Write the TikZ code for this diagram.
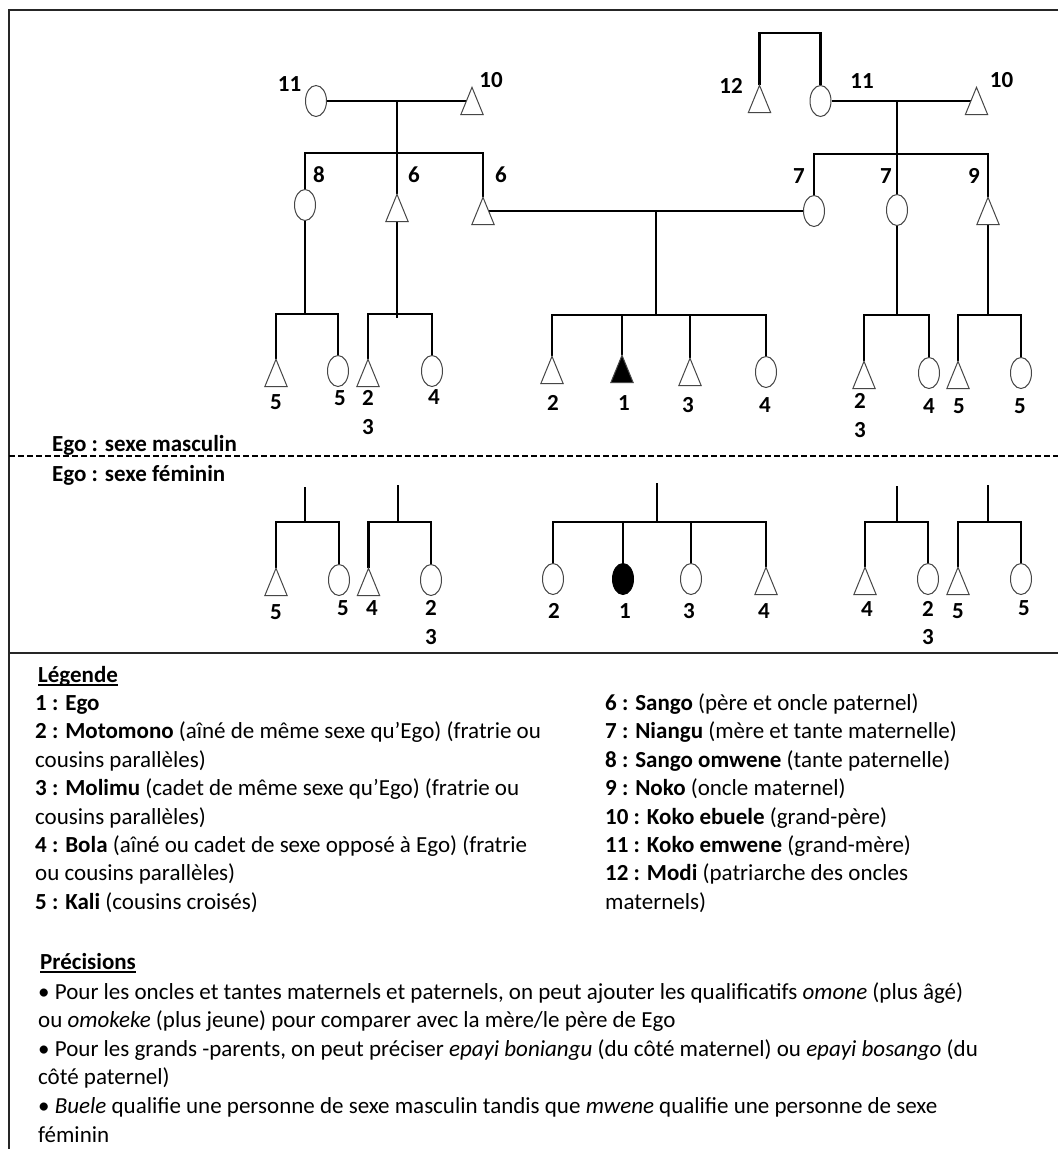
\documentclass[tikz,border=0pt]{standalone}
\usepackage{fontspec}
\setmainfont{Carlito}
\usetikzlibrary{shapes.geometric}
\definecolor{shapegray}{RGB}{70,70,70}
\newcommand\mytri[2][white]{\filldraw[triline,fill=#1] (#2.north) -- (#2.south east) -- (#2.south west) -- cycle;}
\tikzset{
  ell/.style={ellipse, draw=shapegray, line width=1pt, fill=white, minimum width=21pt, minimum height=31pt, inner sep=0pt},
  ellfill/.style={ell, fill=black, draw=black},
  tribox/.style={rectangle, draw=none, minimum width=22pt, minimum height=27pt, inner sep=0pt},
  triline/.style={draw=shapegray, line width=1pt, line join=miter},
  link/.style={line width=2.4pt, black},
  border/.style={line width=1.5pt, black!85},
  sep/.style={line width=1.3pt, black, dash pattern=on 6pt off 3pt},
  lbl/.style={font=\fontsize{23}{28}\selectfont\bfseries, inner sep=0pt},
  leg/.style={anchor=base west, inner sep=0pt, font=\fontsize{23}{28}\selectfont},
  ulin/.style={line width=1.3pt},
}
\begin{document}
\begin{tikzpicture}[x=1pt,y=-1pt]
\useasboundingbox (0,0) rectangle (1058,1149);
\fill[white] (0,0) rectangle (1058,1149);
% frame
\draw[border] (1058,10) -- (9,10) -- (9,1149);
\draw[border] (9,653) -- (1058,653);
\coordinate (dL) at (9,456);
\coordinate (dR) at (1058,456);
\draw[sep] (dL) -- (dR);

% ---------- generation 1 and 2 ----------
\node[ell] (c11L) at (316,101) {};
\node[tribox] (t10L) at (472,101) {};
\node[lbl] (n11L) at (289.5,84) {11};
\node[lbl] (n10L) at (491,80) {10};
\coordinate (mL) at (397,101);
\coordinate (bL) at (397,153);
\node[ell] (c8) at (305,205) {};
\node[tribox] (t6u) at (397,208) {};
\node[tribox] (t6f) at (483,211) {};
\node[lbl] (n8) at (319,175) {8};
\node[lbl] (n6a) at (414,175) {6};
\node[lbl] (n6b) at (501,175) {6};

\node[tribox] (t12) at (759.5,99) {};
\node[ell] (c11R) at (820.5,101) {};
\node[tribox] (t10R) at (976.5,101) {};
\coordinate (brk) at (790,33);
\coordinate (mR) at (897,101);
\coordinate (bR) at (897,154);
\node[ell] (c7a) at (814,211) {};
\node[ell] (c7b) at (897,210) {};
\node[tribox] (t9) at (988,211) {};
\node[lbl] (n12) at (731,86) {12};
\node[lbl] (n11R) at (862,81) {11};
\node[lbl] (n10R) at (1001.5,80) {10};
\node[lbl] (n7a) at (799,176) {7};
\node[lbl] (n7b) at (886,176) {7};
\node[lbl] (n9) at (974,176) {9};

\draw[link] (c11L.east) -- (t10L.center);
\draw[link] (mL) -- (bL);
\draw[link] (c8.north) |- (bL) -| (t6f.north);
\draw[link] (bL) -- (t6u.north);
\draw[link] (t12.north) |- (brk) -| (c11R.north);
\draw[link] (c11R.east) -- (t10R.center);
\draw[link] (mR) -- (bR);
\draw[link] (c7a.north) |- (bR) -| (t9.north);
\draw[link] (bR) -- (c7b.north);
\draw[link] (t6f.center) -- (c7a.west);
\coordinate (mE) at (656,211);
\coordinate (bE) at (656,315);
\draw[link] (mE) -- (bE);

% ---------- generation 3, Ego male ----------
\node[tribox] (a1) at (276,373) {};
\node[ell] (a2) at (338,371) {};
\coordinate (b8) at (305,314);
\draw[link] (c8.south) -- (b8);
\draw[link] (a1.north) |- (b8) -| (a2.north);
\node[tribox] (a3) at (368,373) {};
\node[ell] (a4) at (432,371) {};
\coordinate (b6) at (397,314);
\coordinate (b6e) at (397,318);
\draw[link] (t6u.south) -- (b6e);
\draw[link] (a3.north) |- (b6) -| (a4.north);
\node[tribox] (e2) at (552,370) {};
\node[tribox] (e1) at (622,369) {};
\node[tribox] (e3) at (690,372) {};
\node[ell] (e4) at (766,372) {};
\draw[link] (e2.north) |- (bE) -| (e4.north);
\draw[link] (e1.north) -- (e1.north |- bE);
\draw[link] (e3.north) -- (e3.north |- bE);
\coordinate (b7) at (897,315);
\draw[link] (c7b.south) -- (b7);
\node[tribox] (a5) at (864,375) {};
\node[ell] (a6) at (929,373) {};
\draw[link] (a5.north) |- (b7) -| (a6.north);
\coordinate (b9) at (988,315);
\draw[link] (t9.south) -- (b9);
\node[tribox] (a7) at (958,375) {};
\node[ell] (a8) at (1021,373) {};
\draw[link] (a7.north) |- (b9) -| (a8.north);

\node[lbl] (la1) at (276,402) {5};
\node[lbl] (la2) at (340,398) {5};
\node[lbl] (la3) at (368,398) {2};
\node[lbl] (la3b) at (368,427) {3};
\node[lbl] (la4) at (434,397) {4};
\node[lbl] (le2) at (553,403) {2};
\node[lbl] (le1) at (624,403) {1};
\node[lbl] (le3) at (688,405) {3};
\node[lbl] (le4) at (765,405) {4};
\node[lbl] (la5) at (860,401) {2};
\node[lbl] (la5b) at (860,430) {3};
\node[lbl] (la6) at (929,406) {4};
\node[lbl] (la7) at (959,406) {5};
\node[lbl] (la8) at (1020,406) {5};

\node[leg, font=\fontsize{23}{28}\selectfont\bfseries] (egoM) at (52,451) {Ego : sexe masculin};
\node[leg, font=\fontsize{23}{28}\selectfont\bfseries] (egoF) at (52,481) {Ego : sexe féminin};

% ---------- generation 3, Ego female ----------
\coordinate (s1) at (305,487); \coordinate (q1) at (305,522);
\node[tribox] (f1) at (276,582) {};
\node[ell] (f2) at (339,580) {};
\draw[link] (s1) -- (q1);
\draw[link] (f1.north) |- (q1) -| (f2.north);
\coordinate (s2) at (398,485); \coordinate (q2) at (398,522);
\node[tribox] (f3) at (368.5,582) {};
\node[ell] (f4) at (431,580) {};
\draw[link] (s2) -- (q2);
\draw[link] (f3.north) |- (q2) -| (f4.north);
\coordinate (sE) at (657,483); \coordinate (qE) at (657,522);
\node[ell] (g2) at (553,579) {};
\node[ellfill] (g1) at (623,579) {};
\node[ell] (g3) at (691,579) {};
\node[tribox] (g4) at (766,581) {};
\draw[link] (sE) -- (qE);
\draw[link] (g2.north) |- (qE) -| (g4.north);
\draw[link] (g1.north) -- (g1.north |- qE);
\draw[link] (g3.north) -- (g3.north |- qE);
\coordinate (s3) at (897,486); \coordinate (q3) at (897,522);
\node[tribox] (f5) at (865,581) {};
\node[ell] (f6) at (928,579) {};
\draw[link] (s3) -- (q3);
\draw[link] (f5.north) |- (q3) -| (f6.north);
\coordinate (s4) at (988,485); \coordinate (q4) at (988,522);
\node[tribox] (f7) at (958,581) {};
\node[ell] (f8) at (1021,579) {};
\draw[link] (s4) -- (q4);
\draw[link] (f7.north) |- (q4) -| (f8.north);

\node[lbl] (lf1) at (276,612) {5};
\node[lbl] (lf2) at (343,608) {5};
\node[lbl] (lf3) at (372,608) {4};
\node[lbl] (lf4) at (431,608) {2};
\node[lbl] (lf4b) at (431,637) {3};
\node[lbl] (lg2) at (554,611) {2};
\node[lbl] (lg1) at (625,611) {1};
\node[lbl] (lg3) at (689,611) {3};
\node[lbl] (lg4) at (764,611) {4};
\node[lbl] (lf5) at (867,609) {4};
\node[lbl] (lf6) at (928,609) {2};
\node[lbl] (lf6b) at (928,637) {3};
\node[lbl] (lf7) at (958,611) {5};
\node[lbl] (lf8) at (1024,608) {5};

% triangles drawn on top
\mytri{t10L}\mytri{t6u}\mytri{t6f}\mytri{t12}\mytri{t10R}\mytri{t9}
\mytri{a1}\mytri{a3}\mytri{e2}\mytri[black]{e1}\mytri{e3}\mytri{a5}\mytri{a7}
\mytri{f1}\mytri{f3}\mytri{g4}\mytri{f5}\mytri{f7}

% ---------- legend ----------
\node[leg, font=\fontsize{23}{28}\selectfont\bfseries] (legT) at (38,682) {Légende};
\draw[ulin] ([yshift=-3pt]legT.base west) -- ([yshift=-3pt]legT.base east);
\node[leg] (L1) at (35,710.5) {\textbf{1 : Ego}};
\node[leg] (L2) at (35,738.9) {\textbf{2 : Motomono} (aîné de même sexe qu’Ego) (fratrie ou};
\node[leg] (L2b) at (35,767.3) {cousins parallèles)};
\node[leg] (L3) at (35,795.7) {\textbf{3 : Molimu} (cadet de même sexe qu’Ego) (fratrie ou};
\node[leg] (L3b) at (35,824.1) {cousins parallèles)};
\node[leg] (L4) at (35,852.5) {\textbf{4 : Bola} (aîné ou cadet de sexe opposé à Ego) (fratrie};
\node[leg] (L4b) at (35,880.9) {ou cousins parallèles)};
\node[leg] (L5) at (35,909.3) {\textbf{5 : Kali} (cousins croisés)};
\node[leg] (L6) at (605,710.5) {\textbf{6 : Sango} (père et oncle paternel)};
\node[leg] (L7) at (605,738.9) {\textbf{7 : Niangu} (mère et tante maternelle)};
\node[leg] (L8) at (605,767.3) {\textbf{8 : Sango omwene} (tante paternelle)};
\node[leg] (L9) at (605,795.7) {\textbf{9 : Noko} (oncle maternel)};
\node[leg] (L10) at (605,824.1) {\textbf{10 : Koko ebuele} (grand-père)};
\node[leg] (L11) at (605,852.5) {\textbf{11 : Koko emwene} (grand-mère)};
\node[leg] (L12) at (605,880.9) {\textbf{12 : Modi} (patriarche des oncles};
\node[leg] (L12b) at (605,909.3) {maternels)};

% ---------- précisions ----------
\node[leg, font=\fontsize{23}{28}\selectfont\bfseries] (PT) at (40,969) {Précisions};
\draw[ulin] ([yshift=-3pt]PT.base west) -- ([yshift=-3pt]PT.base east);
\node[leg] (P1) at (38,999) {• Pour les oncles et tantes maternels et paternels, on peut ajouter les qualificatifs \textit{omone} (plus âgé)};
\node[leg] (P1b) at (38,1027.6) {ou \textit{omokeke} (plus jeune) pour comparer avec la mère/le père de Ego};
\node[leg] (P2) at (38,1056.2) {• Pour les grands -parents, on peut préciser \textit{epayi boniangu} (du côté maternel) ou \textit{epayi bosango} (du};
\node[leg] (P2b) at (38,1084.8) {côté paternel)};
\node[leg] (P3) at (38,1113.4) {• \textit{Buele} qualifie une personne de sexe masculin tandis que \textit{mwene} qualifie une personne de sexe};
\node[leg] (P3b) at (38,1142) {féminin};
\end{tikzpicture}
\end{document}
